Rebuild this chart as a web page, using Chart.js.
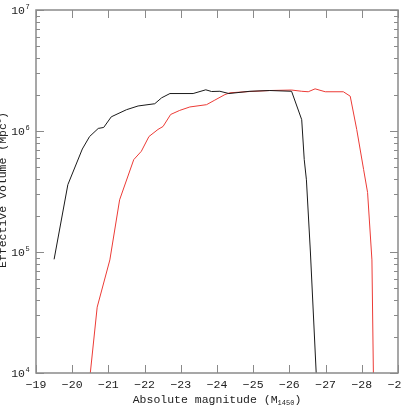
<!DOCTYPE html>
<html>
<head>
<meta charset="utf-8">
<script src="https://cdn.jsdelivr.net/npm/chart.js@4/dist/chart.umd.min.js"></script>
<style>
  html, body { margin: 0; padding: 0; background: #fff; }
  canvas { display: block; }
</style>
</head>
<body>
<canvas id="c" width="402" height="409"></canvas>
<script>
// absolute magnitude M1450 (x) and effective volume in Mpc^3 (y)
const magBlack = [-19.50, -19.88, -20.28, -20.48, -20.72, -20.87, -21.08, -21.50, -21.82, -22.28, -22.47, -22.70, -23.34, -23.69, -23.85, -24.08, -24.33, -24.91, -25.46, -26.06, -26.34, -26.41, -26.47, -26.58, -26.74];
const volBlack = [8.7e4, 3.6e5, 7.1e5, 9.0e5, 1.05e6, 1.07e6, 1.31e6, 1.50e6, 1.61e6, 1.68e6, 1.88e6, 2.04e6, 2.04e6, 2.19e6, 2.12e6, 2.13e6, 2.04e6, 2.13e6, 2.16e6, 2.13e6, 1.24e6, 5.8e5, 3.95e5, 1.0e5, 1.0e4];

const magRed = [-20.50, -20.69, -21.04, -21.31, -21.70, -21.91, -22.12, -22.37, -22.51, -22.72, -22.97, -23.25, -23.71, -23.94, -24.22, -24.36, -24.91, -25.46, -26.06, -26.34, -26.52, -26.71, -26.99, -27.49, -27.68, -27.86, -28.05, -28.16, -28.28, -28.32];
const volRed = [1.0e4, 3.5e4, 8.6e4, 2.7e5, 5.8e5, 6.8e5, 9.0e5, 1.03e6, 1.09e6, 1.37e6, 1.48e6, 1.58e6, 1.65e6, 1.80e6, 2.00e6, 2.07e6, 2.12e6, 2.16e6, 2.18e6, 2.13e6, 2.11e6, 2.23e6, 2.11e6, 2.11e6, 1.94e6, 1.03e6, 4.8e5, 3.1e5, 8.6e4, 1.0e4];

const xTicks = [-19, -20, -21, -22, -23, -24, -25, -26, -27, -28, -29];
const yExponents = [4, 5, 6, 7];

const FONT = '"Liberation Mono", "DejaVu Sans Mono", monospace';
const AXIS = '#8a8a8a';
const TEXT = '#222';

const toPoints = (xs, ys) => xs.map((x, i) => ({ x, y: ys[i] }));

// frame, inward ticks on all four sides, and the labels
const framePlugin = {
  id: 'frame',
  afterDraw(chart) {
    const { ctx, chartArea: a, scales: { x, y } } = chart;
    ctx.save();
    ctx.strokeStyle = AXIS;
    ctx.lineWidth = 1.5;
    ctx.strokeRect(a.left, a.top, a.right - a.left, a.bottom - a.top);

    ctx.lineWidth = 1;
    ctx.beginPath();
    xTicks.forEach(v => {
      const px = Math.round(x.getPixelForValue(v)) + 0.5;
      ctx.moveTo(px, a.bottom); ctx.lineTo(px, a.bottom - 8);
      ctx.moveTo(px, a.top); ctx.lineTo(px, a.top + 8);
    });
    yExponents.forEach((e, i) => {
      const py = Math.round(y.getPixelForValue(Math.pow(10, e))) + 0.5;
      ctx.moveTo(a.left, py); ctx.lineTo(a.left + 8, py);
      ctx.moveTo(a.right, py); ctx.lineTo(a.right - 8, py);
      if (i < yExponents.length - 1) {
        for (let m = 2; m <= 9; m++) {
          const pm = Math.round(y.getPixelForValue(m * Math.pow(10, e))) + 0.5;
          ctx.moveTo(a.left, pm); ctx.lineTo(a.left + 4, pm);
          ctx.moveTo(a.right, pm); ctx.lineTo(a.right - 4, pm);
        }
      }
    });
    ctx.stroke();

    ctx.fillStyle = TEXT;
    ctx.textBaseline = 'middle';
    ctx.textAlign = 'center';
    ctx.font = '11.5px ' + FONT;
    xTicks.forEach(v => {
      ctx.fillText('\u2212' + Math.abs(v), x.getPixelForValue(v), a.bottom + 12);
    });

    yExponents.forEach(e => {
      const py = y.getPixelForValue(Math.pow(10, e));
      ctx.font = '11.5px ' + FONT;
      ctx.textAlign = 'right';
      ctx.fillText('10', 25, py + 1);
      ctx.font = '7px ' + FONT;
      ctx.textAlign = 'left';
      ctx.fillText(String(e), 25.5, py - 3);
    });

    // x title with subscript
    const main = 'Absolute magnitude (M';
    ctx.font = '11.5px ' + FONT;
    const w1 = ctx.measureText(main).width;
    ctx.font = '7px ' + FONT;
    const w2 = ctx.measureText('1450').width;
    ctx.font = '11.5px ' + FONT;
    const w3 = ctx.measureText(')').width;
    let sx = 217 - (w1 + w2 + w3) / 2;
    const ty = a.bottom + 27;
    ctx.textAlign = 'left';
    ctx.fillText(main, sx, ty);
    sx += w1;
    ctx.font = '7px ' + FONT;
    ctx.fillText('1450', sx, ty + 3);
    sx += w2;
    ctx.font = '11.5px ' + FONT;
    ctx.fillText(')', sx, ty);

    // y title, rotated
    ctx.translate(3, 190);
    ctx.rotate(-Math.PI / 2);
    const yMain = 'Effective volume (Mpc';
    const v1 = ctx.measureText(yMain).width;
    ctx.font = '7px ' + FONT;
    const v2 = ctx.measureText('3').width;
    ctx.font = '11.5px ' + FONT;
    const v3 = ctx.measureText(')').width;
    let ox = -(v1 + v2 + v3) / 2;
    ctx.fillText(yMain, ox, 0);
    ox += v1;
    ctx.font = '7px ' + FONT;
    ctx.fillText('3', ox, -4);
    ox += v2;
    ctx.font = '11.5px ' + FONT;
    ctx.fillText(')', ox, 0);
    ctx.restore();
  }
};

new Chart(document.getElementById('c'), {
  type: 'line',
  data: {
    datasets: [
      { data: toPoints(magBlack, volBlack), borderColor: '#1a1a1a', borderWidth: 1, pointRadius: 0, tension: 0 },
      { data: toPoints(magRed, volRed), borderColor: '#ec3b36', borderWidth: 1, pointRadius: 0, tension: 0 }
    ]
  },
  options: {
    responsive: false,
    animation: false,
    devicePixelRatio: 1,
    layout: { padding: { top: 10, right: 4, left: 0, bottom: 0 } },
    plugins: { legend: { display: false }, tooltip: { enabled: false } },
    scales: {
      x: {
        type: 'linear', min: -29, max: -19, reverse: true,
        ticks: { display: false }, grid: { display: false }, border: { display: false },
        afterFit: s => { s.height = 36; }
      },
      y: {
        type: 'logarithmic', min: 1e4, max: 1e7,
        ticks: { display: false }, grid: { display: false }, border: { display: false },
        afterFit: s => { s.width = 36; }
      }
    }
  },
  plugins: [framePlugin]
});
</script>
</body>
</html>
